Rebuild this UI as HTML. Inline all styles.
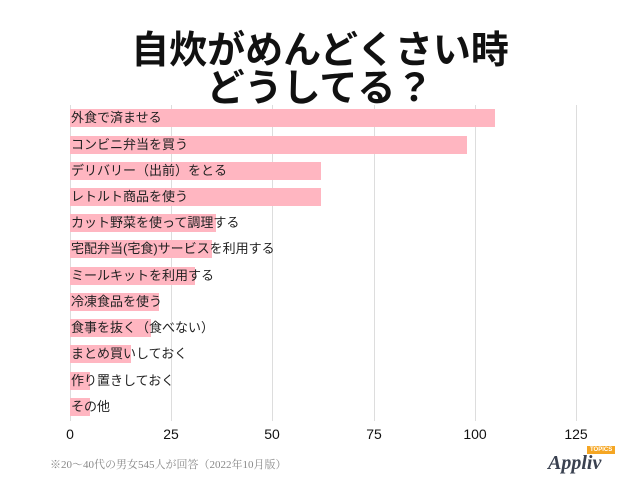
<!DOCTYPE html>
<html><head><meta charset="utf-8"><style>
body{margin:0;width:640px;height:480px;background:#fff;overflow:hidden;position:relative;font-family:"Liberation Sans","Noto Sans CJK JP",sans-serif;}
.t{position:absolute;left:0;width:640px;text-align:center;font-weight:bold;font-size:38px;line-height:40px;color:#111;}
.g{position:absolute;top:105px;height:316px;width:1px;background:#ddd;}
.b{position:absolute;left:70px;height:18px;background:#ffb6c1;}
.l{position:absolute;left:71px;font-size:13px;line-height:18px;color:#222;white-space:nowrap;}
.x{position:absolute;top:426px;font-size:14px;color:#111;width:40px;margin-left:-20px;text-align:center;}
</style></head><body>
<div class="t" style="top:31px">自炊がめんどくさい時</div>
<div class="t" style="top:69px">どうしてる？</div>
<div class="g" style="left:70px"></div><div class="g" style="left:171px"></div><div class="g" style="left:272px"></div><div class="g" style="left:374px"></div><div class="g" style="left:475px"></div><div class="g" style="left:576px"></div>
<div class="b" style="top:109px;width:425px"></div><div class="l" style="top:109px">外食で済ませる</div>
<div class="b" style="top:136px;width:397px"></div><div class="l" style="top:136px">コンビニ弁当を買う</div>
<div class="b" style="top:162px;width:251px"></div><div class="l" style="top:162px">デリバリー（出前）をとる</div>
<div class="b" style="top:188px;width:251px"></div><div class="l" style="top:188px">レトルト商品を使う</div>
<div class="b" style="top:214px;width:146px"></div><div class="l" style="top:214px">カット野菜を使って調理する</div>
<div class="b" style="top:240px;width:142px"></div><div class="l" style="top:240px">宅配弁当(宅食)サービスを利用する</div>
<div class="b" style="top:267px;width:125px"></div><div class="l" style="top:267px">ミールキットを利用する</div>
<div class="b" style="top:293px;width:89px"></div><div class="l" style="top:293px">冷凍食品を使う</div>
<div class="b" style="top:319px;width:81px"></div><div class="l" style="top:319px">食事を抜く（食べない）</div>
<div class="b" style="top:345px;width:61px"></div><div class="l" style="top:345px">まとめ買いしておく</div>
<div class="b" style="top:372px;width:20px"></div><div class="l" style="top:372px">作り置きしておく</div>
<div class="b" style="top:398px;width:20px"></div><div class="l" style="top:398px">その他</div>
<div class="x" style="left:70px">0</div><div class="x" style="left:171px">25</div><div class="x" style="left:272px">50</div><div class="x" style="left:374px">75</div><div class="x" style="left:475px">100</div><div class="x" style="left:576px">125</div>
<div style="position:absolute;left:50px;top:456px;font-family:'Liberation Serif','Noto Serif CJK SC',serif;font-size:11px;color:#888">※20～40代の男女545人が回答（2022年10月版）</div>
<div style="position:absolute;left:548px;top:452px;font-family:'Liberation Serif',serif;font-style:italic;font-weight:bold;font-size:20px;color:#3a4150">Appliv</div>
<div style="position:absolute;left:587px;top:446px;background:#f5a623;color:#fff;font-size:6px;font-weight:bold;padding:0 3px;line-height:8px">TOPICS</div>
</body></html>
